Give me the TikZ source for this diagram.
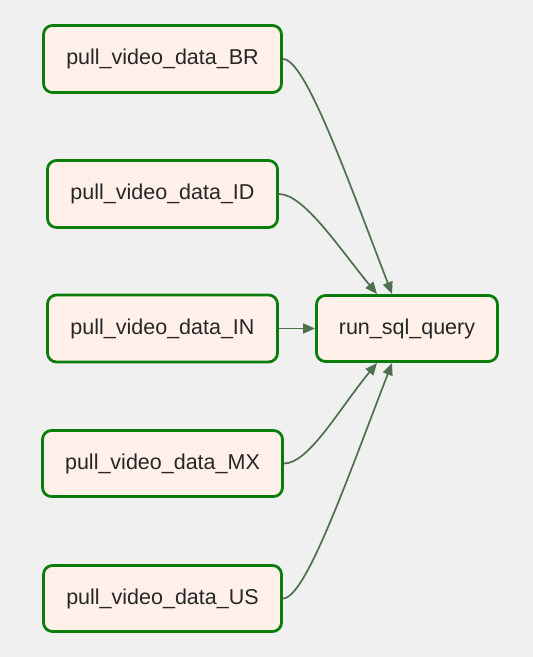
\documentclass[tikz,border=0pt]{standalone}
\usepackage{fontspec}
\setmainfont{Liberation Sans}
\usetikzlibrary{arrows.meta}
\definecolor{bg}{HTML}{F0F0F0}
\definecolor{nodefill}{HTML}{FFF0EA}
\definecolor{nodeborder}{HTML}{0B7D0B}
\definecolor{edgecol}{HTML}{4F6F4F}
\tikzset{
  task/.style={draw=nodeborder, fill=nodefill, line width=2.8pt, rounded corners=9pt,
    font=\fontsize{21.5}{25}\selectfont, text=black!85, inner sep=0pt},
  conn/.style={draw=edgecol, line width=1.7pt, -{Triangle[length=12pt,width=10pt]}}
}
\begin{document}
\begin{tikzpicture}[x=1pt,y=-1pt]
\fill[bg] (0,0) rectangle (533,657);
\useasboundingbox (0,0) rectangle (533,657);
\node[task, minimum width=238pt, minimum height=67pt] (br) at (162.5,59) {pull\_video\_data\_BR};
\node[task, minimum width=230pt, minimum height=67pt] (id) at (162.5,194) {pull\_video\_data\_ID};
\node[task, minimum width=230pt, minimum height=67pt] (in) at (162.5,328.5) {pull\_video\_data\_IN};
\node[task, minimum width=240pt, minimum height=66pt] (mx) at (162.5,463.5) {pull\_video\_data\_MX};
\node[task, minimum width=238pt, minimum height=66pt] (us) at (162.5,598.5) {pull\_video\_data\_US};
\node[task, minimum width=181pt, minimum height=66pt] (run) at (407,328.5) {run\_sql\_query};
\coordinate (t1) at (377,294);
\coordinate (t2) at (392,294);
\coordinate (b1) at (377,363);
\coordinate (b2) at (392,363);
\draw[conn] (br.east) .. controls +(22,0) and +(-48,-125) .. (t2);
\draw[conn] (id.east) .. controls +(25,0) and +(-38,-46) .. (t1);
\draw[conn] (in.east) -- (run.west);
\draw[conn] (mx.east) .. controls +(25,0) and +(-38,46) .. (b1);
\draw[conn] (us.east) .. controls +(22,0) and +(-48,125) .. (b2);
\end{tikzpicture}
\end{document}
